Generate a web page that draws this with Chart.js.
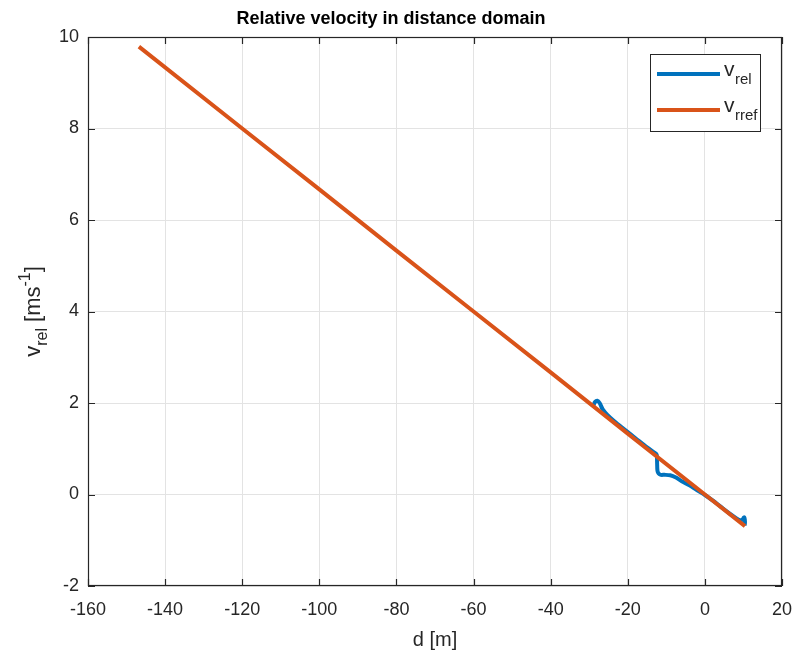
<!DOCTYPE html>
<html lang="en">
<head>
  <meta charset="UTF-8">
  <title>Relative velocity in distance domain</title>
  <script src="https://cdn.jsdelivr.net/npm/chart.js"></script>
  <style>
    html, body { margin: 0; padding: 0; background: #fff; }
    #wrap { position: relative; width: 795px; height: 656px; }
  </style>
</head>
<body>
  <div id="wrap"><canvas id="chart" width="795" height="656"></canvas></div>

  <script>
    // measured relative velocity (blue)
    const relD = [-29.0, -28.5, -27.9, -27.3, -26.5, -25.3, -23.5, -21, -18, -15, -13, -12.5,
                  -12.4, -12.3, -12.0, -11.4, -10.5, -9, -7.5, -6, -4, -2, 0, 2, 4, 6, 8, 9,
                  9.7, 10.2, 10.4, 10.3];
    const relV = [1.93, 2.02, 2.05, 2.0, 1.86, 1.74, 1.6, 1.43, 1.23, 1.03, 0.91, 0.87,
                  0.72, 0.52, 0.46, 0.43, 0.43, 0.42, 0.37, 0.29, 0.2, 0.09, -0.01, -0.13, -0.26, -0.39, -0.51, -0.56,
                  -0.55, -0.5, -0.6, -0.68];
    // reference relative velocity (orange)
    const refD = [-146.8, -120, -100, -80, -60, -40, -20, 0, 10.4];
    const refV = [9.79, 8.0, 6.67, 5.33, 4.0, 2.67, 1.33, 0.0, -0.69];

    const xTicks = [-160, -140, -120, -100, -80, -60, -40, -20, 0, 20];
    const yTicks = [-2, 0, 2, 4, 6, 8, 10];

    const axisColor = '#262626';
    const fontFam = '"Liberation Sans", Arial, Helvetica, sans-serif';

    const toPts = (xs, ys) => xs.map((x, i) => ({ x: x, y: ys[i] }));

    // box, inward ticks, custom y label and legend (subscripts)
    const matlabAxes = {
      id: 'matlabAxes',
      afterDraw(chart) {
        const ctx = chart.ctx;
        const a = chart.chartArea;
        const xs = chart.scales.x, ys = chart.scales.y;
        ctx.save();
        ctx.strokeStyle = axisColor;
        ctx.lineWidth = 1.2;
        ctx.strokeRect(a.left + 0.5, a.top + 0.5, a.right - a.left - 1, a.bottom - a.top - 1);
        ctx.beginPath();
        xTicks.forEach(t => {
          const px = Math.round(xs.getPixelForValue(t)) + 0.5;
          ctx.moveTo(px, a.bottom); ctx.lineTo(px, a.bottom - 7);
          ctx.moveTo(px, a.top); ctx.lineTo(px, a.top + 7);
        });
        yTicks.forEach(t => {
          const py = Math.round(ys.getPixelForValue(t)) + 0.5;
          ctx.moveTo(a.left, py); ctx.lineTo(a.left + 7, py);
          ctx.moveTo(a.right, py); ctx.lineTo(a.right - 7, py);
        });
        ctx.stroke();

        // y axis label: v_rel [ms^-1]
        ctx.fillStyle = axisColor;
        ctx.translate(40, (a.top + a.bottom) / 2);
        ctx.rotate(-Math.PI / 2);
        ctx.textBaseline = 'alphabetic';
        const big = '22px ' + fontFam, small = '16px ' + fontFam;
        const parts = [['v', big, 0], ['rel', small, 7], [' [ms', big, 0], ['-1', small, -10], [']', big, 0]];
        let w = 0;
        parts.forEach(p => { ctx.font = p[1]; w += ctx.measureText(p[0]).width; });
        let x0 = -w / 2;
        parts.forEach(p => {
          ctx.font = p[1];
          ctx.fillText(p[0], x0, p[2]);
          x0 += ctx.measureText(p[0]).width;
        });
        ctx.restore();

        // legend
        ctx.save();
        ctx.fillStyle = '#fff';
        ctx.fillRect(650, 54, 110, 77);
        ctx.strokeStyle = axisColor;
        ctx.lineWidth = 1;
        ctx.strokeRect(650.5, 54.5, 110, 77);
        const items = [['rel', '#0072BD', 74], ['rref', '#D95319', 110]];
        items.forEach(it => {
          ctx.strokeStyle = it[1];
          ctx.lineWidth = 4;
          ctx.beginPath();
          ctx.moveTo(657, it[2]); ctx.lineTo(720, it[2]);
          ctx.stroke();
          ctx.fillStyle = axisColor;
          ctx.font = '21px ' + fontFam;
          ctx.textBaseline = 'alphabetic';
          ctx.fillText('v', 724, it[2] + 2);
          ctx.font = '15px ' + fontFam;
          ctx.fillText(it[0], 735, it[2] + 10);
        });
        ctx.restore();
      }
    };

    new Chart(document.getElementById('chart'), {
      type: 'line',
      data: {
        datasets: [
          {
            label: 'v_rel',
            data: toPts(relD, relV),
            borderColor: '#0072BD',
            borderWidth: 4,
            pointRadius: 0,
            tension: 0.3,
            fill: false,
            order: 1
          },
          {
            label: 'v_rref',
            data: toPts(refD, refV),
            borderColor: '#D95319',
            borderWidth: 4,
            pointRadius: 0,
            fill: false,
            order: 0
          }
        ]
      },
      options: {
        responsive: false,
        animation: false,
        layout: { padding: { left: 0, right: 13, top: 0, bottom: 0 } },
        plugins: {
          legend: { display: false },
          tooltip: { enabled: false },
          title: {
            display: true,
            text: 'Relative velocity in distance domain',
            color: '#000',
            font: { family: fontFam, size: 18, weight: 'bold' },
            padding: { top: 8, bottom: 7.4 }
          }
        },
        scales: {
          x: {
            type: 'linear',
            min: -160, max: 20,
            afterBuildTicks: s => { s.ticks = xTicks.map(v => ({ value: v })); },
            afterFit: s => { s.height = 70; s.paddingLeft = 0; s.paddingRight = 0; },
            grid: { color: '#e3e3e3', drawTicks: false },
            border: { display: false },
            ticks: { color: axisColor, padding: 13, font: { family: fontFam, size: 18 } },
            title: { display: true, text: 'd [m]', color: axisColor, padding: { top: 3 },
                     font: { family: fontFam, size: 20 } }
          },
          y: {
            type: 'linear',
            min: -2, max: 10,
            afterBuildTicks: s => { s.ticks = yTicks.map(v => ({ value: v })); },
            afterFit: s => { s.width = 88; s.paddingTop = 0; s.paddingBottom = 0; },
            grid: { color: '#e3e3e3', drawTicks: false },
            border: { display: false },
            ticks: { color: axisColor, padding: 9, font: { family: fontFam, size: 18 } }
          }
        }
      },
      plugins: [matlabAxes]
    });
  </script>
</body>
</html>
